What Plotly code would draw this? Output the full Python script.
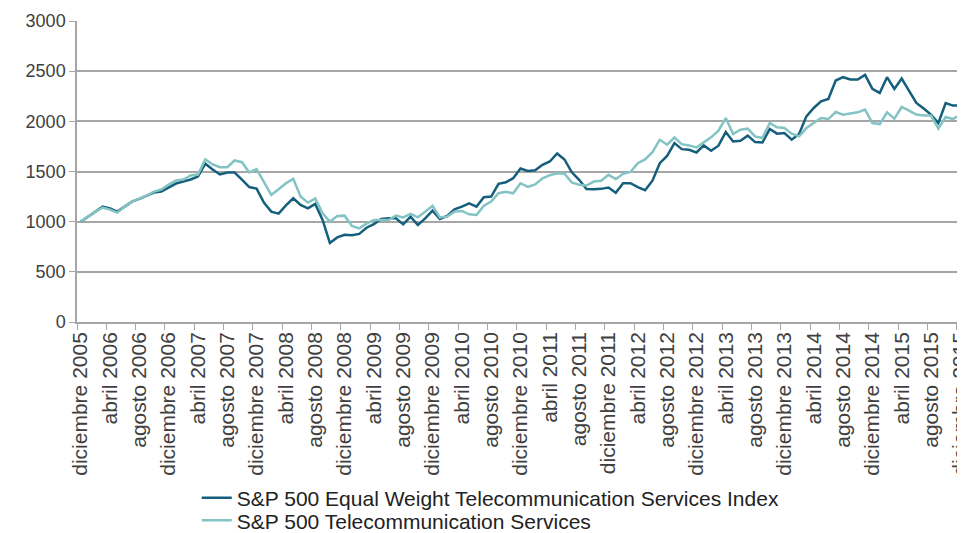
import plotly.graph_objects as go

# --- DATA ---
MESES = ["enero", "febrero", "marzo", "abril", "mayo", "junio", "julio",
         "agosto", "septiembre", "octubre", "noviembre", "diciembre"]
months = ["diciembre 2005"] + [f"{MESES[m]} {y}" for y in range(2006, 2016) for m in range(12)]

equal_weight = [
    1000, 1050, 1100, 1150, 1133, 1100, 1150, 1200, 1227, 1257, 1290, 1300, 1340, 1380, 1400, 1420, 1450,
    1578, 1520, 1470, 1490, 1490, 1420, 1345, 1330, 1190, 1100, 1080, 1162, 1233, 1167, 1133, 1177, 1017,
    787, 843, 870, 865, 878, 940, 975,
    1027, 1033, 1033, 973, 1050, 967, 1033, 1110, 1027, 1057, 1123, 1150, 1183, 1150, 1243, 1250, 1377,
    1393, 1433, 1530, 1505, 1513, 1567, 1600, 1680, 1620, 1492, 1417, 1325, 1323, 1327, 1340, 1287, 1383,
    1383, 1345, 1313, 1408, 1583, 1655, 1783, 1723, 1717, 1690, 1760, 1707, 1757, 1893, 1800, 1807, 1857,
    1793, 1790, 1923, 1877, 1883, 1817, 1873, 2050, 2133, 2200, 2223, 2407, 2440, 2417, 2417, 2463, 2323,
    2283, 2440, 2323, 2427, 2300, 2183, 2127, 2067, 1983, 2183, 2157, 2157,
]

telecom = [
    1000, 1050, 1100, 1140, 1120, 1090, 1150, 1200, 1230, 1260, 1300, 1320, 1370, 1410, 1420, 1460, 1470,
    1620, 1570, 1543, 1543, 1610, 1593, 1490, 1523, 1390, 1267, 1323, 1383, 1427, 1250, 1190, 1230, 1083,
    1000, 1057, 1060, 958, 933, 980, 1017,
    1017, 1017, 1060, 1043, 1077, 1043, 1100, 1157, 1043, 1050, 1100, 1107, 1073, 1067, 1160, 1200, 1283,
    1297, 1283, 1383, 1347, 1372, 1433, 1463, 1483, 1477, 1390, 1367, 1360, 1400, 1408, 1467, 1425, 1477,
    1495, 1583, 1620, 1692, 1817, 1767, 1840, 1773, 1760, 1740, 1790, 1840, 1907, 2033, 1873, 1917, 1927,
    1850, 1833, 1983, 1940, 1933, 1877, 1850, 1933, 1983, 2033, 2023, 2093, 2067, 2077, 2090, 2117, 1983,
    1973, 2090, 2027, 2143, 2107, 2067, 2057, 2057, 1927, 2043, 2023, 2067,
]

series_names = ["S&P 500 Equal Weight Telecommunication Services Index",
                "S&P 500 Telecommunication Services"]

# --- FIGURE ---
fig = go.Figure()
fig.add_trace(go.Scatter(x=months, y=equal_weight, mode='lines', name=series_names[0],
                         line=dict(color='#155f7d', width=2.5), legend='legend'))
fig.add_trace(go.Scatter(x=months, y=telecom, mode='lines', name=series_names[1],
                         line=dict(color='#84c3c4', width=2.5), legend='legend2'))

# one legend per entry so the rows can sit as close together as in the original
legend_style = dict(x=0.135, xanchor='left', yanchor='middle',
                    font=dict(size=21, color='#222222'), bgcolor='rgba(0,0,0,0)')

# page body has an 8px margin, so the figure is sized to fit inside the window
fig.update_layout(
    width=957, height=525, plot_bgcolor='white', paper_bgcolor='white',
    margin=dict(l=69, r=1, t=13, b=211, autoexpand=False),
    font=dict(family='Liberation Sans, Arial, sans-serif', size=18, color='#404040'),
    showlegend=True,
    legend=dict(y=-0.585, **legend_style),
    legend2=dict(y=-0.66, **legend_style),
)
fig.update_xaxes(type='category', range=[-0.5, 120.5], dtick=4, tick0=0, automargin=False,
                 tickson='boundaries', tickangle=-90, ticks='outside', ticklen=6,
                 tickfont=dict(size=21), tickcolor='#a6a6a6', showgrid=False,
                 showline=True, linecolor='#a6a6a6', linewidth=1.5)
fig.update_yaxes(range=[0, 3000], dtick=500, showgrid=True, gridcolor='#a6a6a6', gridwidth=1.5,
                 showline=True, linecolor='#a6a6a6', linewidth=1.5, ticks='outside', ticklen=6,
                 tickcolor='#a6a6a6', zeroline=False, automargin=False)

fig.write_html("out.html")
